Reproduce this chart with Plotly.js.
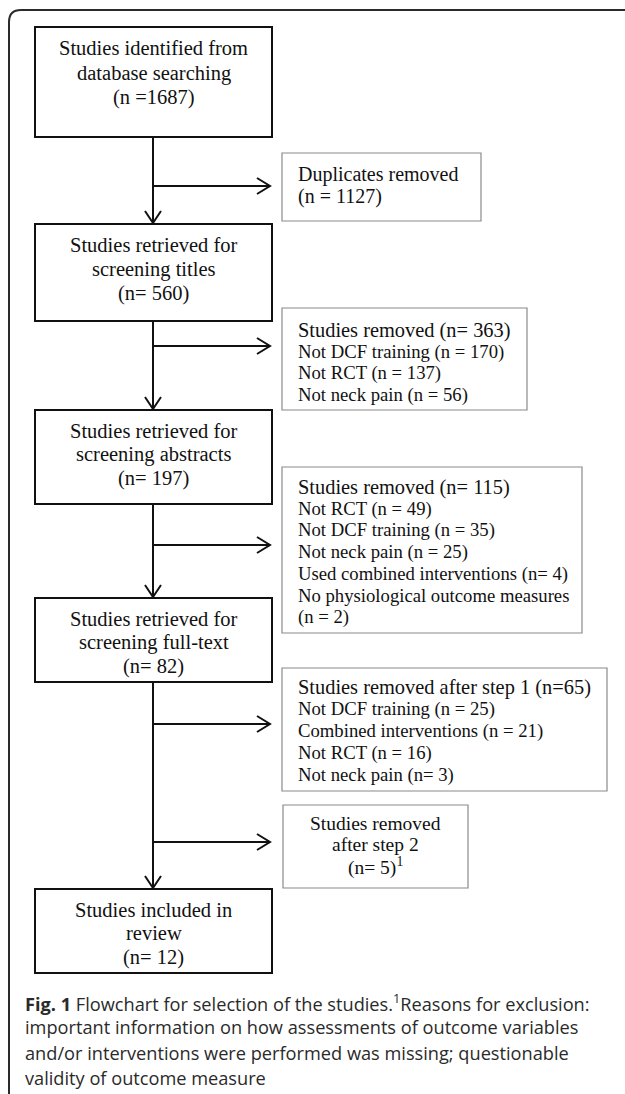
<!DOCTYPE html>
<html>
<head>
<meta charset="utf-8">
<script src="https://cdn.plot.ly/plotly-3.0.1.min.js"></script>
<style>html,body{margin:0;padding:0;background:#fff;}#chart{width:625px;height:1094px;}</style>
</head>
<body>
<div id="chart"></div>
<script>
// ---- DATA (texts and counts of the flowchart) ----
const stageTitles = [
  ["Studies identified from", "database searching"],
  ["Studies retrieved for", "screening titles"],
  ["Studies retrieved for", "screening abstracts"],
  ["Studies retrieved for", "screening full-text"],
  ["Studies included in", "review"]
];
const stageCounts = ["(n =1687)", "(n= 560)", "(n= 197)", "(n= 82)", "(n= 12)"];

const duplicatesLines = ["Duplicates removed", "(n = 1127)"];
const titlesExclusion = ["Studies removed (n= 363)", "Not DCF training (n = 170)", "Not RCT (n = 137)", "Not neck pain (n = 56)"];
const abstractsExclusion = ["Studies removed (n= 115)", "Not RCT (n = 49)", "Not DCF training (n = 35)", "Not neck pain (n = 25)", "Used combined interventions (n= 4)", "No physiological outcome measures", "(n = 2)"];
const step1Exclusion = ["Studies removed after step 1 (n=65)", "Not DCF training (n = 25)", "Combined interventions (n = 21)", "Not RCT (n = 16)", "Not neck pain (n= 3)"];
const step2Exclusion = ["Studies removed", "after step 2", "(n= 5)<sup>1</sup>"];

const captionLines = [
  "<b>Fig. 1</b> Flowchart for selection of the studies.<sup>1</sup>Reasons for exclusion:",
  "important information on how assessments of outcome variables",
  "and/or interventions were performed was missing; questionable",
  "validity of outcome measure"
];

// ---- GEOMETRY / STYLE (pixel layout) ----
const W = 625, H = 1094;
const stageBoxes = [[35,27,272,137],[35,224,272,321],[35,410,272,504],[35,598,272,682],[35,889,272,973]];
const stageTextY = [[48,73,97],[245,269,293],[431,454,478],[619,642,666],[910,933,957]];
const exclusionGroups = [duplicatesLines, titlesExclusion, abstractsExclusion, step1Exclusion, step2Exclusion];
const exclBoxes = [[282,153,481,221],[282,308,527,410],[282,467,582,633],[282,668,607,791],[283,805,468,888]];
const exclFirstY = [174,330,487,687,823];
const exclStep = [22,21.6,21.7,22,21.8];
const exclCentered = [false,false,false,false,true];
const headerSize = 20.4, reasonSize = 18.7, dupSize = 20, step2Size = 19.5;
const arrowY = [186,346,545,724,842];
const spineX = 153, arrowTipX = 270;
const captionY = [1002,1027,1053,1078];
const serif = "Liberation Serif, Times New Roman, serif";

const shapes = [];
const annotations = [];

// outer frame (rounded top-left corner, open at bottom/right)
shapes.push({type:'path', xref:'x', yref:'y', path:'M 9,1094 L 9,22 Q 9,10 21,10 L 625,10', line:{color:'#2b2b2b', width:2}});

// stage boxes
stageBoxes.forEach((b,i)=>{
  shapes.push({type:'rect', xref:'x', yref:'y', x0:b[0], y0:b[1], x1:b[2], y1:b[3], line:{color:'#111', width:2}, fillcolor:'rgba(0,0,0,0)'});
  const lines = stageTitles[i].concat([stageCounts[i]]);
  lines.forEach((t,j)=>{
    annotations.push({x:(b[0]+b[2])/2, y:stageTextY[i][j], xref:'x', yref:'y', text:t, showarrow:false, xanchor:'center', yanchor:'middle', font:{family:serif, size:20.5, color:'#111'}});
  });
});

// exclusion boxes
exclBoxes.forEach((b,i)=>{
  shapes.push({type:'rect', xref:'x', yref:'y', x0:b[0], y0:b[1], x1:b[2], y1:b[3], line:{color:'#8a8a8a', width:1.2}, fillcolor:'rgba(0,0,0,0)'});
  exclusionGroups[i].forEach((t,j)=>{
    let size = reasonSize;
    if (i === 0) size = dupSize;
    else if (i === 4) size = step2Size;
    else if (j === 0) size = headerSize;
    annotations.push({x: exclCentered[i] ? (b[0]+b[2])/2 : 296, y: exclFirstY[i]+j*exclStep[i], xref:'x', yref:'y', text:t, showarrow:false,
      xanchor: exclCentered[i] ? 'center' : 'left', yanchor:'middle', font:{family:serif, size:size, color:'#111'}});
  });
});

// vertical spine segments with open arrowheads
for (let i=0;i<stageBoxes.length-1;i++){
  const y0 = stageBoxes[i][3], y1 = stageBoxes[i+1][1];
  shapes.push({type:'line', xref:'x', yref:'y', x0:spineX, y0:y0, x1:spineX, y1:y1-1, line:{color:'#111', width:2}});
  shapes.push({type:'path', xref:'x', yref:'y', path:`M ${spineX-8},${y1-13} L ${spineX},${y1-1} L ${spineX+8},${y1-13}`, line:{color:'#111', width:2}});
}

// horizontal arrows to exclusion boxes
arrowY.forEach(y=>{
  shapes.push({type:'line', xref:'x', yref:'y', x0:spineX, y0:y, x1:arrowTipX, y1:y, line:{color:'#111', width:2}});
  shapes.push({type:'path', xref:'x', yref:'y', path:`M ${arrowTipX-13},${y-8} L ${arrowTipX},${y} L ${arrowTipX-13},${y+8}`, line:{color:'#111', width:2}});
});

// caption
captionLines.forEach((t,j)=>{
  annotations.push({x:23, y:captionY[j], xref:'x', yref:'y', text:t, showarrow:false, xanchor:'left', yanchor:'middle', font:{family:'Open Sans, Noto Sans, sans-serif', size:18.2, color:'#2a2a2a'}});
});

const layout = {
  width:W, height:H, margin:{l:0,r:0,t:0,b:0}, paper_bgcolor:'#fff', plot_bgcolor:'#fff',
  xaxis:{range:[0,W], visible:false, fixedrange:true},
  yaxis:{range:[H,0], visible:false, fixedrange:true},
  shapes:shapes, annotations:annotations, showlegend:false
};
Plotly.newPlot('chart', [], layout, {staticPlot:true, displayModeBar:false});
</script>
</body>
</html>
